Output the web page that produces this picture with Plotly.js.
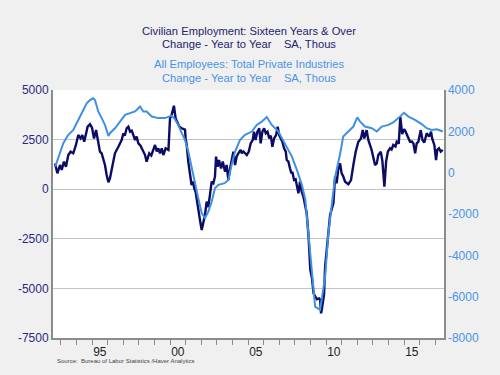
<!DOCTYPE html>
<html><head><meta charset="utf-8">
<script src="https://cdn.plot.ly/plotly-3.0.1.min.js"></script>
<style>html,body{margin:0;padding:0;background:#f0f0f0;}#chart{width:500px;height:375px;}</style>
</head><body><div id="chart"></div>
<script>
// Civilian Employment: 16 yrs & over, Y/Y change, thous (left axis)
const civX = [1992.63,1992.78,1992.95,1993.06,1993.2,1993.33,1993.48,1993.63,1993.8,1993.97,1994.12,1994.27,1994.38,1994.5,1994.72,1994.87,1995.0,1995.13,1995.26,1995.4,1995.51,1995.62,1995.73,1995.83,1995.94,1996.05,1996.15,1996.26,1996.37,1996.47,1996.69,1996.9,1997.01,1997.1,1997.22,1997.33,1997.44,1997.55,1997.65,1997.76,1997.86,1997.97,1998.1,1998.25,1998.4,1998.5,1998.67,1998.8,1999.04,1999.15,1999.25,1999.36,1999.47,1999.57,1999.72,1999.9,2000.0,2000.1,2000.25,2000.36,2000.47,2000.6,2000.75,2000.96,2001.0,2001.07,2001.17,2001.24,2001.3,2001.38,2001.49,2001.55,2001.64,2001.71,2001.81,2001.92,2002.03,2002.14,2002.24,2002.35,2002.45,2002.56,2002.67,2002.78,2002.88,2002.95,2003.05,2003.14,2003.27,2003.38,2003.53,2003.63,2003.74,2003.85,2003.95,2004.06,2004.17,2004.27,2004.38,2004.53,2004.6,2004.7,2004.92,2005.05,2005.17,2005.3,2005.38,2005.48,2005.6,2005.72,2005.81,2005.92,2006.03,2006.14,2006.25,2006.36,2006.46,2006.56,2006.67,2006.8,2006.9,2007.0,2007.1,2007.2,2007.31,2007.42,2007.48,2007.59,2007.69,2007.78,2007.84,2007.95,2008.05,2008.12,2008.23,2008.33,2008.44,2008.55,2008.65,2008.76,2008.88,2008.99,2009.1,2009.2,2009.41,2009.55,2009.62,2009.68,2009.72,2009.87,2009.94,2010.15,2010.26,2010.47,2010.58,2010.68,2010.78,2010.9,2011.0,2011.1,2011.22,2011.43,2011.6,2011.75,2011.9,2012.07,2012.24,2012.35,2012.45,2012.6,2012.71,2012.92,2013.03,2013.14,2013.25,2013.35,2013.51,2013.61,2013.74,2013.85,2013.96,2014.1,2014.2,2014.31,2014.45,2014.53,2014.66,2014.76,2014.88,2015.0,2015.1,2015.21,2015.28,2015.38,2015.5,2015.6,2015.71,2015.81,2015.92,2016.07,2016.18,2016.3,2016.45,2016.6,2016.73,2016.8,2016.94,2017.0,2017.05,2017.13,2017.24,2017.35,2017.48];
const civY = [1300,800,1220,970,1390,1130,1720,1890,1810,2230,2730,2560,2730,2390,3150,3270,3100,2560,2980,2310,1890,1800,1470,1220,720,350,550,970,1390,1810,2140,2480,2820,2700,3070,3150,2900,2950,2730,2480,2650,2310,2200,1980,1720,1390,1810,1700,2230,1900,2060,1810,2060,1720,2060,1980,3570,3740,4210,3570,3400,3150,3070,3000,2560,2230,1390,1050,550,210,380,45,-130,-540,-1050,-1550,-2060,-1640,-1300,-630,-900,-290,380,300,630,1640,1130,1470,1050,1390,880,1220,460,1050,1470,1890,1220,1640,1810,1980,1810,1900,1720,1900,2310,2480,2900,2480,2900,3070,2310,2900,3070,2820,2900,2560,2700,2140,2560,2730,3150,2730,2560,2390,2060,1890,1470,1390,1050,800,880,460,500,210,-210,380,-130,-380,-800,-1210,-2390,-4070,-4490,-5250,-5550,-5500,-5550,-6255,-6100,-5330,-3900,-2220,-1300,-710,630,300,970,1300,800,650,380,250,460,1220,1890,2390,2560,2980,2560,2980,2480,1980,1560,1220,1300,1720,1890,1430,126,1390,1890,2060,2000,2230,2150,2390,2300,3650,2780,3030,2900,2730,2560,2390,2400,2300,1810,2310,2400,2980,2480,2350,2820,2650,2900,2560,2230,1520,1470,1980,2060,1890,1980];

// All Employees: Total Private Industries, Y/Y change, thous (right axis)
const prvX = [1992.65,1992.95,1993.16,1993.48,1993.8,1994.12,1994.44,1994.66,1994.88,1995.08,1995.19,1995.4,1995.62,1995.83,1996.05,1996.15,1996.47,1996.8,1997.12,1997.44,1997.76,1997.97,1998.08,1998.29,1998.5,1998.83,1999.25,1999.68,2000.0,2000.1,2000.3,2000.53,2000.75,2000.96,2001.17,2001.38,2001.6,2001.81,2002.03,2002.24,2002.45,2002.67,2002.88,2003.1,2003.5,2003.74,2003.95,2004.17,2004.49,2004.81,2005.24,2005.56,2005.88,2006.2,2006.52,2006.74,2006.95,2007.17,2007.49,2007.81,2008.13,2008.45,2008.67,2008.88,2009.1,2009.2,2009.3,2009.62,2009.94,2010.15,2010.36,2010.58,2010.9,2011.1,2011.43,2011.75,2012.0,2012.18,2012.5,2012.93,2013.25,2013.57,2014.0,2014.31,2014.63,2015.0,2015.28,2015.7,2016.13,2016.45,2016.77,2017.1,2017.48];
const prvY = [300,1000,1430,1830,2070,2550,3040,3360,3520,3600,3520,2960,2640,2310,1780,1910,2150,2470,2800,2880,2960,3120,3200,2960,2960,2715,2640,2640,2715,2760,2600,2310,1910,1590,1020,220,-590,-1230,-1960,-2200,-1900,-1400,-750,-590,-510,-350,380,1020,1590,1830,1990,2310,2470,2690,2310,2150,1990,1670,1260,780,135,-590,-1300,-3090,-4860,-5820,-6480,-6640,-5030,-2930,-1640,-200,900,1750,1990,2230,2680,2470,2230,2150,1990,2230,2310,2430,2640,2900,2715,2555,2350,2150,2070,2100,1990];

const xLabelPos = [1995.5,2000.5,2005.5,2010.5,2015.5];
const xLabels = ["95","00","05","10","15"];
const yearTicks = [1993,1994,1995,1996,1997,1998,1999,2000,2001,2002,2003,2004,2005,2006,2007,2008,2009,2010,2011,2012,2013,2014,2015,2016,2017];
const leftTicks = [5000,2500,0,-2500,-5000,-7500];
const leftTickText = ["5000","2500","0","-2500","-5000","-7500"];
const rightTicks = [4000,2000,0,-2000,-4000,-6000,-8000];
const rightTickText = ["4000","2000","0","-2000","-4000","-6000","-8000"];

const NAVY = '#0c0c66';
const BLUE = '#3f8fe3';
const FONT = 'Liberation Sans, Arial, sans-serif';

const traces = [
  {x: prvX, y: prvY, type:'scatter', mode:'lines', yaxis:'y2', line:{color:BLUE, width:2}, hoverinfo:'skip'},
  {x: civX, y: civY, type:'scatter', mode:'lines', yaxis:'y', line:{color:NAVY, width:2.4}, hoverinfo:'skip'}
];

function tl(text, y, color){
  return {text:text, xref:'paper', yref:'paper', x:0.5, y:y, xanchor:'center', yanchor:'middle', showarrow:false, font:{family:FONT, size:11.2, color:color}};
}

const layout = {
  width:500, height:375,
  paper_bgcolor:'#f0f0f0', plot_bgcolor:'#ffffff',
  margin:{l:53, r:56, t:90, b:37},
  showlegend:false,
  font:{family:FONT},
  xaxis:{range:[1992.5,2017.56], tickmode:'array', tickvals:xLabelPos, ticktext:xLabels, ticks:'',
    showgrid:false, zeroline:false, showline:true, linecolor:'#8c8c8c', linewidth:1.5,
    tickfont:{size:12, color:'#222222'}, ticklabelstandoff:2,
    minor:{tickmode:'array', tickvals:yearTicks, ticks:'outside', ticklen:5, tickcolor:'#8c8c8c', tickwidth:1, showgrid:false}},
  yaxis:{range:[-7500,5000], tickmode:'array', tickvals:leftTicks, ticktext:leftTickText,
    showgrid:true, gridcolor:'#c4c4c4', gridwidth:1, zeroline:false,
    showline:true, linecolor:'#8c8c8c', linewidth:2, ticks:'',
    tickfont:{size:12, color:'#2a2a86'}},
  yaxis2:{range:[-8000,4000], overlaying:'y', side:'right', tickmode:'array', tickvals:rightTicks, ticktext:rightTickText,
    showgrid:false, zeroline:false, showline:true, linecolor:'#8c8c8c', linewidth:1.5, ticks:'',
    tickfont:{size:12, color:'#4a93e6'}},
  annotations:[
    tl('Civilian Employment: Sixteen Years &amp; Over', 1.2399, '#23236e'),
    tl('Change - Year to Year\u00a0\u00a0\u00a0\u00a0SA, Thous', 1.1875, '#23236e'),
    tl('All Employees: Total Private Industries', 1.1048, '#4a93e6'),
    tl('Change - Year to Year\u00a0\u00a0\u00a0\u00a0SA, Thous', 1.0484, '#4a93e6'),
    {text:'Source:\u00a0\u00a0Bureau of Labor Statistics /Haver Analytics', xref:'paper', yref:'paper', x:0.005, y:-0.092, xanchor:'left', yanchor:'middle', showarrow:false, font:{family:FONT, size:6, color:'#444444'}}
  ]
};

Plotly.newPlot('chart', traces, layout, {displayModeBar:false, staticPlot:true});
</script>
</body></html>
